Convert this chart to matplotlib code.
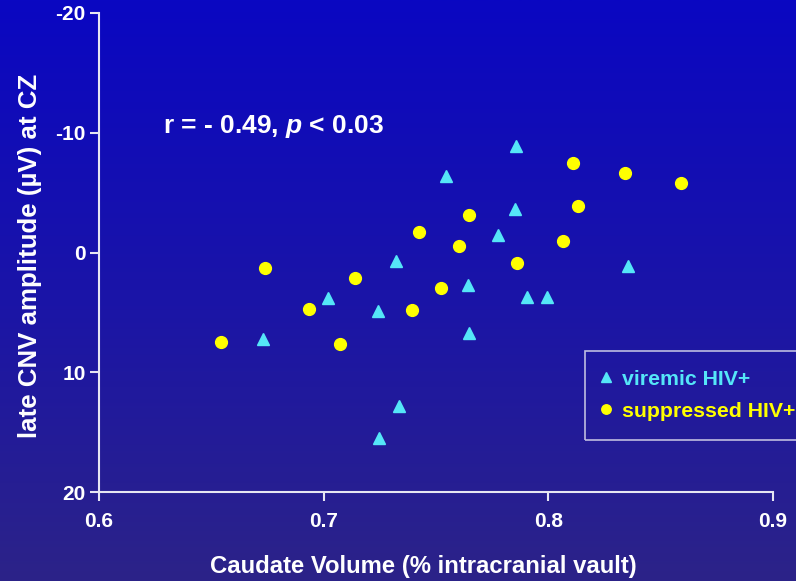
import numpy as np
import matplotlib
matplotlib.use("Agg")
import matplotlib.pyplot as plt
from matplotlib.colors import LinearSegmentedColormap

# Caudate volume (% intracranial vault) vs late CNV amplitude (µV) at CZ
viremic_volume = [0.6729, 0.7020, 0.7243, 0.7320, 0.7247, 0.7335, 0.7543, 0.7644,
                  0.7648, 0.7774, 0.7853, 0.7856, 0.7906, 0.7992, 0.8356]
viremic_cnv = [7.22, 3.82, 4.90, 0.70, 15.46, 12.82, -6.40, 2.71,
               6.72, -1.50, -3.64, -8.91, 3.73, 3.73, 1.12]

suppressed_volume = [0.6544, 0.6739, 0.6936, 0.7074, 0.7139, 0.7393, 0.7423, 0.7522,
                     0.7603, 0.7645, 0.7862, 0.8064, 0.8112, 0.8130, 0.8342, 0.8589]
suppressed_cnv = [7.49, 1.29, 4.68, 7.60, 2.12, 4.80, -1.72, 2.98,
                  -0.55, -3.09, 0.84, -0.92, -7.49, -3.87, -6.60, -5.79]

x_ticks = [0.6, 0.7, 0.8, 0.9]
x_tick_labels = ["0.6", "0.7", "0.8", "0.9"]
y_ticks = [-20, -10, 0, 10, 20]
y_tick_labels = ["-20", "-10", "0", "10", "20"]

series_labels = ["viremic HIV+", "suppressed HIV+"]
stat_text = r"r = - 0.49, $\mathit{p}$ < 0.03"

plt.rcParams['font.family'] = ['Liberation Sans', 'DejaVu Sans']
plt.rcParams['font.weight'] = 'bold'
plt.rcParams['mathtext.fontset'] = 'custom'
plt.rcParams['mathtext.rm'] = 'Liberation Sans:bold'
plt.rcParams['mathtext.it'] = 'Liberation Sans:italic:bold'

W, H = 796, 581
fig = plt.figure(figsize=(W / 100, H / 100), dpi=100)

# vertical blue gradient backdrop
bg = fig.add_axes([0, 0, 1, 1], zorder=-10)
grad = np.linspace(0, 1, 256).reshape(-1, 1)
cmap = LinearSegmentedColormap.from_list('backdrop', ['#0A07C2', '#1A14A8', '#2C2388'])
bg.imshow(grad, aspect='auto', cmap=cmap, extent=[0, 1, 0, 1], origin='upper')
bg.axis('off')

axis_color = '#E6E6F2'
cyan = '#55E6F8'
yellow = '#FFFF00'

ax = fig.add_axes([99 / W, 1 - 492 / H, 674 / W, 479 / H])
ax.patch.set_alpha(0)
ax.set_xlim(0.6, 0.9)
ax.set_ylim(20, -20)

ax.plot(viremic_volume, viremic_cnv, linestyle='none', marker='^', ms=8.5,
        color=cyan, mec=cyan, label=series_labels[0])
ax.plot(suppressed_volume, suppressed_cnv, linestyle='none', marker='o', ms=8.5,
        color=yellow, mec=yellow, label=series_labels[1])

for side in ('top', 'right'):
    ax.spines[side].set_visible(False)
for side in ('left', 'bottom'):
    ax.spines[side].set_color(axis_color)
    ax.spines[side].set_linewidth(1.5)

ax.set_xticks(x_ticks)
ax.set_xticklabels(x_tick_labels)
ax.set_yticks(y_ticks)
ax.set_yticklabels(y_tick_labels)
ax.tick_params(axis='both', direction='out', length=6.5, width=1.5,
               color=axis_color, labelcolor='white', labelsize=15)
ax.tick_params(axis='x', pad=8)
ax.tick_params(axis='y', pad=3)

ax.text(0.6285, -10, stat_text, color='white', fontsize=19,
        fontweight='bold', va='baseline', ha='left')

fig.text(423 / W, 1 - 566 / H, 'Caudate Volume (% intracranial vault)',
         color='white', fontsize=17.2, fontweight='bold', ha='center', va='center')
fig.text(30 / W, 1 - 256 / H, 'late CNV amplitude (µV) at CZ',
         color='white', fontsize=18.6, fontweight='bold', ha='center', va='center',
         rotation=90)

leg = ax.legend(loc='upper left', bbox_to_anchor=(585 / W, 1 - 351 / H),
                bbox_transform=fig.transFigure, fontsize=15.3, frameon=True,
                fancybox=False, markerscale=0.8, handlelength=0.2,
                handletextpad=0.68, borderpad=0.88, labelspacing=0.62,
                borderaxespad=0)
frame = leg.get_frame()
frame.set_facecolor('none')
frame.set_edgecolor(axis_color)
frame.set_linewidth(1.2)
for txt, col in zip(leg.get_texts(), [cyan, yellow]):
    txt.set_color(col)

fig.savefig('out.png', dpi=100)
